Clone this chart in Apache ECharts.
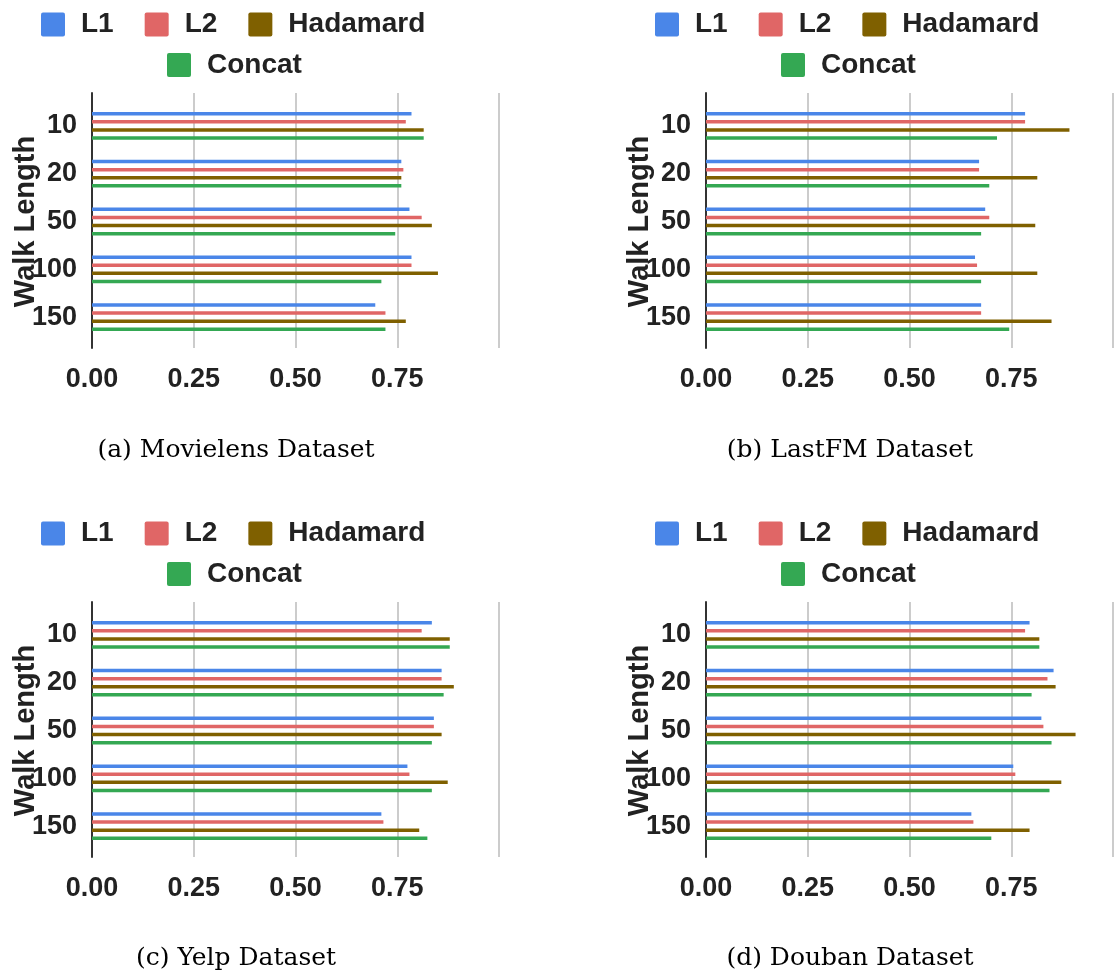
<!DOCTYPE html>
<html>
<head>
<meta charset="utf-8">
<script src="https://cdn.jsdelivr.net/npm/echarts@6/dist/echarts.min.js"></script>
<style>
html,body{margin:0;padding:0;background:#fff;}
#chart{width:1117px;height:977px;}
</style>
</head>
<body>
<div id="chart"></div>
<script>
// ---- data ----
const categories = ['10', '20', '50', '100', '150'];
const seriesNames = ['L1', 'L2', 'Hadamard', 'Concat'];
const xTicks = ['0.00', '0.25', '0.50', '0.75'];
const captions = ['(a) Movielens Dataset', '(b) LastFM Dataset', '(c) Yelp Dataset', '(d) Douban Dataset'];
const axisTitle = 'Walk Length';

const movielensL1 = [0.785, 0.760, 0.780, 0.785, 0.696];
const movielensL2 = [0.771, 0.765, 0.810, 0.785, 0.721];
const movielensHadamard = [0.815, 0.760, 0.835, 0.850, 0.771];
const movielensConcat = [0.815, 0.760, 0.745, 0.711, 0.721];

const lastfmL1 = [0.784, 0.671, 0.686, 0.661, 0.676];
const lastfmL2 = [0.784, 0.671, 0.696, 0.666, 0.676];
const lastfmHadamard = [0.893, 0.814, 0.809, 0.814, 0.849];
const lastfmConcat = [0.715, 0.696, 0.676, 0.676, 0.745];

const yelpL1 = [0.835, 0.859, 0.840, 0.775, 0.711];
const yelpL2 = [0.810, 0.859, 0.840, 0.780, 0.716];
const yelpHadamard = [0.879, 0.889, 0.859, 0.874, 0.804];
const yelpConcat = [0.879, 0.864, 0.835, 0.835, 0.824];

const doubanL1 = [0.795, 0.854, 0.824, 0.755, 0.652];
const doubanL2 = [0.784, 0.839, 0.829, 0.760, 0.657];
const doubanHadamard = [0.819, 0.859, 0.908, 0.873, 0.795];
const doubanConcat = [0.819, 0.800, 0.849, 0.844, 0.701];

// ---- build ----
const panelData = [
  [movielensL1, movielensL2, movielensHadamard, movielensConcat],
  [lastfmL1, lastfmL2, lastfmHadamard, lastfmConcat],
  [yelpL1, yelpL2, yelpHadamard, yelpConcat],
  [doubanL1, doubanL2, doubanHadamard, doubanConcat]
];
const colors = ['#4a86e8', '#e06666', '#7f6000', '#34a853'];
const SANS = 'Liberation Sans, Arial, sans-serif';
const SERIF = 'DejaVu Serif, serif';
const TXT = '#222';

const offsets = [[0, 0], [614, 0], [0, 509], [614, 509]];

const grid = [], xAxis = [], yAxis = [], series = [], legend = [], graphic = [];

offsets.forEach(([ox, oy], p) => {
  // frame grid (gridlines + axis line + x labels)
  grid.push({left: 92 + ox, top: 93 + oy, width: 407, height: 255, containLabel: false, outerBoundsMode: 'none'});
  // bar grid
  grid.push({left: 92 + ox, top: 102 + oy, width: 407, height: 239, containLabel: false, outerBoundsMode: 'none'});
  const gf = 2 * p, gb = 2 * p + 1;

  xAxis.push({
    type: 'value', gridIndex: gf, min: 0, max: 1, interval: 0.25,
    axisLine: {show: false}, axisTick: {show: false},
    splitLine: {show: true, lineStyle: {color: '#cccccc', width: 2}},
    axisLabel: {
      show: true, margin: 18, fontFamily: SANS, fontWeight: 'bold', fontSize: 27, color: TXT,
      formatter: (v) => { const i = Math.round(v / 0.25); return i < xTicks.length ? xTicks[i] : ''; }
    }
  });
  yAxis.push({
    type: 'value', gridIndex: gf, min: 0, max: 1,
    axisLine: {show: true, lineStyle: {color: '#333', width: 2}},
    axisTick: {show: false}, axisLabel: {show: false}, splitLine: {show: false}
  });

  xAxis.push({type: 'value', gridIndex: gb, min: 0, max: 1, show: false});
  yAxis.push({
    type: 'category', gridIndex: gb, data: categories, inverse: true,
    axisLine: {show: false}, axisTick: {show: false}, splitLine: {show: false},
    axisLabel: {margin: 15, fontFamily: SANS, fontWeight: 'bold', fontSize: 27, color: TXT},
    name: axisTitle, nameLocation: 'middle', nameRotate: 90, nameGap: 52, nameMoveOverlap: false,
    nameTextStyle: {fontFamily: SANS, fontWeight: 'bold', fontSize: 29, color: TXT}
  });

  seriesNames.forEach((name, s) => {
    series.push({
      type: 'bar', name: name, xAxisIndex: gb, yAxisIndex: gb,
      data: panelData[p][s], barWidth: 3.5, barGap: '131%',
      itemStyle: {color: colors[s]}, silent: true
    });
  });

  const legendCommon = {
    orient: 'horizontal', padding: 0, itemWidth: 24, itemHeight: 24, itemGap: 31,
    icon: 'path://M2,0H22Q24,0 24,2V22Q24,24 22,24H2Q0,24 0,22V2Q0,0 2,0Z',
    textStyle: {fontFamily: SANS, fontWeight: 'bold', fontSize: 28, color: TXT, padding: [0, 0, 0, 11]}
  };
  legend.push(Object.assign({}, legendCommon, {data: seriesNames.slice(0, 3), left: 41 + ox, top: 10.5 + oy}));
  legend.push(Object.assign({}, legendCommon, {data: seriesNames.slice(3), left: 167 + ox, top: 51 + oy}));

  graphic.push({
    type: 'text', x: 236 + ox, y: [450, 450, 958, 958][p],
    style: {text: captions[p], align: 'center', verticalAlign: 'middle',
            fontFamily: SERIF, fontSize: 25, fill: '#000'}
  });
});

const chart = echarts.init(document.getElementById('chart'), null, {renderer: 'canvas'});
chart.setOption({
  animation: false,
  color: colors,
  grid, xAxis, yAxis, series, legend, graphic
});
</script>
</body>
</html>
